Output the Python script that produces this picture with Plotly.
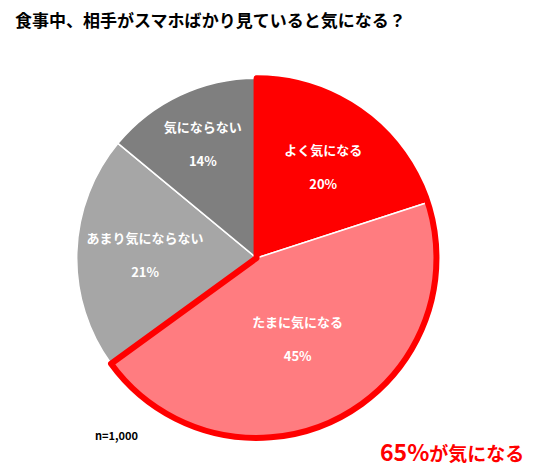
import plotly.graph_objects as go

labels = ["よく気になる", "たまに気になる", "あまり気にならない", "気にならない"]
values = [20, 45, 21, 14]
colors = ["#FF0000", "#FF7C80", "#A6A6A6", "#7F7F7F"]
group_values = [65, 35]

dom = dict(x=[0.128, 0.803], y=[0.093, 0.852])
fig = go.Figure()
fig.add_trace(go.Pie(
    labels=labels, values=values, sort=False, direction="clockwise", rotation=0,
    marker=dict(colors=colors, line=dict(color="white", width=1.5)),
    texttemplate="<b>%{label}</b><br><br><b>%{value}%</b>", textposition="inside",
    insidetextorientation="horizontal",
    textfont=dict(color="white", size=13, family="Noto Sans CJK JP"),
    domain=dom, showlegend=False, hoverinfo="skip"))
fig.add_trace(go.Pie(
    values=group_values, sort=False, direction="clockwise", rotation=0,
    marker=dict(colors=["rgba(0,0,0,0)"] * 2,
                line=dict(color=["#FF0000", "rgba(0,0,0,0)"], width=6)),
    textinfo="none", domain=dom, showlegend=False, hoverinfo="skip"))

fig.update_layout(
    width=534, height=474, margin=dict(l=0, r=0, t=0, b=0),
    paper_bgcolor="white", plot_bgcolor="white",
    font=dict(family="Noto Sans CJK JP"),
    annotations=[
        dict(text="<b>食事中、相手がスマホばかり見ていると気になる？</b>", x=0.01, y=0.975,
             xref="paper", yref="paper", xanchor="left", yanchor="middle",
             showarrow=False, font=dict(size=17, color="black")),
        dict(text="<b>n=1,000</b>", x=0.16, y=0.1, xref="paper", yref="paper",
             xanchor="left", yanchor="middle", showarrow=False,
             font=dict(size=11, color="black")),
        dict(text="<b><span style='font-size:23px'>65%</span>が気になる</b>", x=0.97, y=0.065,
             xref="paper", yref="paper", xanchor="right", yanchor="middle",
             showarrow=False, font=dict(size=19, color="#FF0000")),
    ])
fig.write_html("out.html")
